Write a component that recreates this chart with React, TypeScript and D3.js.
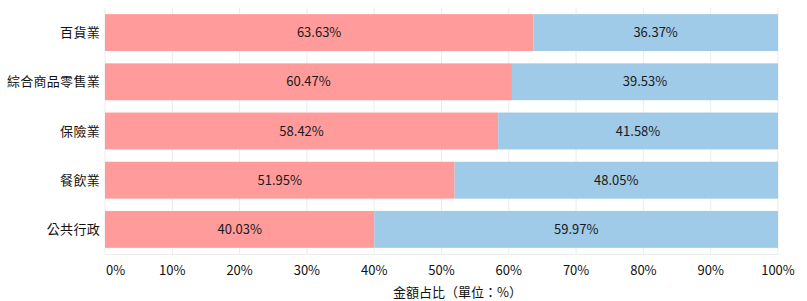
import { useEffect, useRef } from "react";
import * as d3 from "d3";

const categories = ["百貨業", "綜合商品零售業", "保險業", "餐飲業", "公共行政"];
const seriesA = [63.63, 60.47, 58.42, 51.95, 40.03];
const seriesB = [36.37, 39.53, 41.58, 48.05, 59.97];
const ticks = [0, 10, 20, 30, 40, 50, 60, 70, 80, 90, 100];
const xTitle = "金額占比（單位：%）";

const FONT = "'Noto Sans CJK TC', 'Noto Sans', sans-serif";

const App = () => {
  const ref = useRef<SVGSVGElement>(null);

  useEffect(() => {
    const W = 807;
    const H = 301;
    const margin = { top: 8, right: 29, bottom: 47, left: 105 };

    const svg = d3.select(ref.current);
    svg.selectAll("*").remove();
    svg.attr("width", W).attr("height", H).attr("viewBox", `0 0 ${W} ${H}`);

    const x = d3.scaleLinear().domain([0, 100]).range([margin.left, W - margin.right]);
    const y = d3
      .scaleBand()
      .domain(categories)
      .range([margin.top, H - margin.bottom])
      .paddingInner(0.25)
      .paddingOuter(0.125);

    // grid
    svg
      .append("g")
      .selectAll("line")
      .data(ticks)
      .join("line")
      .attr("x1", (d) => x(d))
      .attr("x2", (d) => x(d))
      .attr("y1", margin.top)
      .attr("y2", H - margin.bottom)
      .attr("stroke", "#ececec")
      .attr("stroke-width", 1);

    svg
      .append("line")
      .attr("x1", margin.left)
      .attr("x2", W - margin.right)
      .attr("y1", H - margin.bottom + 0.5)
      .attr("y2", H - margin.bottom + 0.5)
      .attr("stroke", "#ececec");

    const rows = categories.map((c, i) => ({ c, a: seriesA[i], b: seriesB[i] }));

    const g = svg.append("g");
    g.selectAll(".barA")
      .data(rows)
      .join("rect")
      .attr("class", "barA")
      .attr("x", x(0))
      .attr("y", (d) => y(d.c))
      .attr("width", (d) => x(d.a) - x(0))
      .attr("height", y.bandwidth())
      .attr("fill", "#ff9b9b");

    g.selectAll(".barB")
      .data(rows)
      .join("rect")
      .attr("class", "barB")
      .attr("x", (d) => x(d.a))
      .attr("y", (d) => y(d.c))
      .attr("width", (d) => x(d.a + d.b) - x(d.a))
      .attr("height", y.bandwidth())
      .attr("fill", "#9fcae8");

    // value labels
    const valueLabel = (cls, getX, getV) =>
      g.selectAll(cls)
        .data(rows)
        .join("text")
        .attr("x", getX)
        .attr("y", (d) => y(d.c) + y.bandwidth() / 2)
        .attr("dy", "0.35em")
        .attr("text-anchor", "middle")
        .style("font-family", FONT)
        .style("font-size", "13px")
        .attr("fill", "#1a1a1a")
        .text((d) => getV(d).toFixed(2) + "%");

    valueLabel(".labA", (d) => x(d.a / 2), (d) => d.a);
    valueLabel(".labB", (d) => x(d.a + d.b / 2), (d) => d.b);

    // category labels
    svg
      .append("g")
      .selectAll("text")
      .data(categories)
      .join("text")
      .attr("x", margin.left - 5)
      .attr("y", (d) => y(d) + y.bandwidth() / 2)
      .attr("dy", "0.35em")
      .attr("text-anchor", "end")
      .style("font-family", FONT)
      .style("font-size", "13px")
      .style("letter-spacing", "0.3px")
      .attr("fill", "#111")
      .text((d) => d);

    // x tick labels
    svg
      .append("g")
      .selectAll("text")
      .data(ticks)
      .join("text")
      .attr("x", (d) => (d === 0 ? x(d) + 1 : x(d)))
      .attr("y", 270)
      .attr("dy", "0.35em")
      .attr("text-anchor", (d) => (d === 0 ? "start" : "middle"))
      .style("font-family", FONT)
      .style("font-size", "13px")
      .attr("fill", "#111")
      .text((d) => d + "%");

    svg
      .append("text")
      .attr("x", 393)
      .attr("y", 292)
      .attr("dy", "0.35em")
      .attr("text-anchor", "start")
      .style("font-family", FONT)
      .style("font-size", "13px")
      .attr("fill", "#111")
      .text(xTitle);
  }, []);

  return (
    <div style={{ width: 807, height: 301 }}>
      <svg ref={ref} style={{ position: "absolute", left: 0, top: 0 }}></svg>
    </div>
  );
};

export default App;
